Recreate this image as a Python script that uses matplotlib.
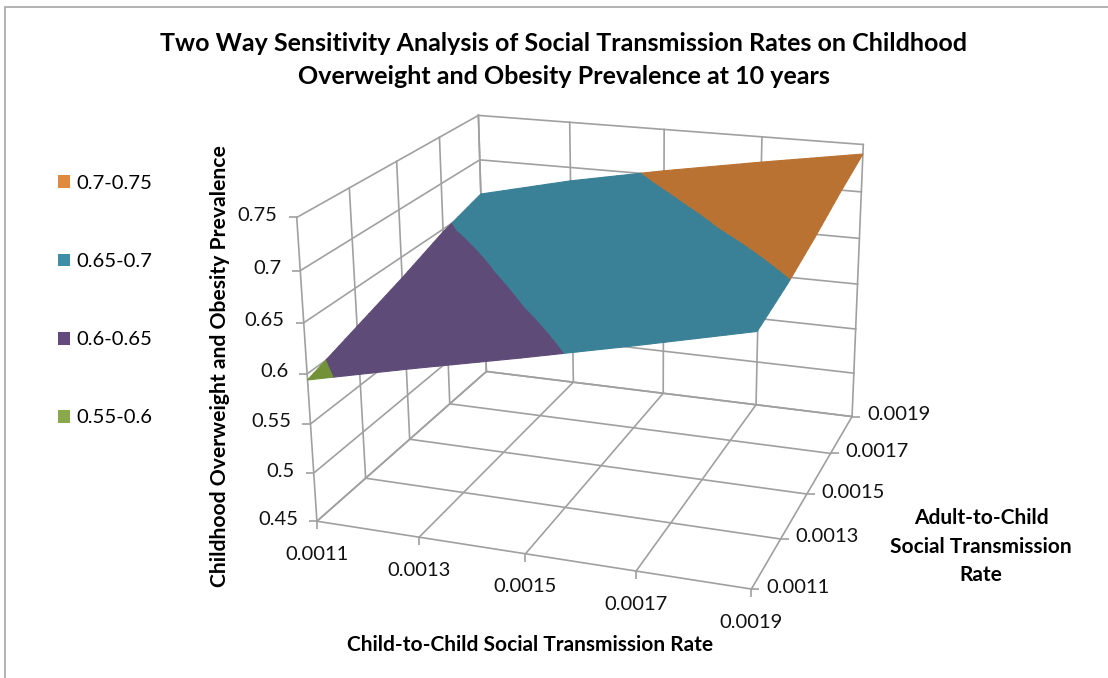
"""Two way sensitivity surface, Excel style 3D chart rebuilt with mplot3d."""
import matplotlib

matplotlib.use("Agg")
import matplotlib.pyplot as plt
import numpy as np
from matplotlib.patches import Patch, Rectangle
from mpl_toolkits.mplot3d import proj3d
from mpl_toolkits.mplot3d.art3d import Poly3DCollection

plt.rcParams["font.family"] = ["Lato", "DejaVu Sans"]

TITLE = "Two Way Sensitivity Analysis of Social Transmission Rates on Childhood\nOverweight and Obesity Prevalence at 10 years"

child_rate = [0.0011, 0.0013, 0.0015, 0.0017, 0.0019]
adult_rate = [0.0011, 0.0013, 0.0015, 0.0017, 0.0019]
z_ticks = [0.45, 0.5, 0.55, 0.6, 0.65, 0.7, 0.75]

# rows: adult rate, columns: child rate
prevalence = [
    [0.594, 0.618, 0.641, 0.665, 0.690],
    [0.611, 0.636, 0.658, 0.680, 0.699],
    [0.628, 0.652, 0.673, 0.6945, 0.712],
    [0.647, 0.669, 0.690, 0.709, 0.727],
    [0.661, 0.685, 0.705, 0.723, 0.740],
]

band_labels = ["0.7-0.75", "0.65-0.7", "0.6-0.65", "0.55-0.6"]
band_edges = [(0.7, 0.75), (0.65, 0.7), (0.6, 0.65), (0.55, 0.6)]
surface_colors = ["#BA7232", "#3A8198", "#5F4B78", "#739238"]
legend_colors = ["#DF8A3F", "#3C8DA5", "#64497F", "#8AA94B"]

GRID = "#A0A0A0"
CELL_STEPS = 8  # each grid cell is drawn as a small bilinear mesh


def clip_z(poly, lo, hi):
    """Clip a polygon to lo <= z <= hi (Sutherland-Hodgman on the z value)."""
    for sign, limit in [(1, lo), (-1, hi)]:
        out = []
        for i in range(len(poly)):
            a, b = poly[i], poly[(i + 1) % len(poly)]
            da, db = sign * (a[2] - limit), sign * (b[2] - limit)
            if da >= 0:
                out.append(a)
            if da * db < 0:
                out.append(a + (b - a) * da / (da - db))
        poly = out
        if not poly:
            break
    return poly


def band_polygons(lo, hi):
    z = np.array(prevalence)
    polys = []
    t = np.linspace(0, 1, CELL_STEPS + 1)
    for j in range(len(adult_rate) - 1):
        for i in range(len(child_rate) - 1):
            def corner(u, v):
                zz = (z[j, i] * (1 - u) * (1 - v) + z[j, i + 1] * u * (1 - v)
                      + z[j + 1, i] * (1 - u) * v + z[j + 1, i + 1] * u * v)
                return np.array([child_rate[i] + u * (child_rate[i + 1] - child_rate[i]),
                                 adult_rate[j] + v * (adult_rate[j + 1] - adult_rate[j]), zz])

            for u0, u1 in zip(t[:-1], t[1:]):
                for v0, v1 in zip(t[:-1], t[1:]):
                    p = clip_z([corner(u0, v0), corner(u1, v0), corner(u1, v1), corner(u0, v1)], lo, hi)
                    if len(p) >= 3:
                        polys.append(np.array(p))
    return polys


fig = plt.figure(figsize=(11.08, 6.78), dpi=100)
S = 656
ax = fig.add_axes([(591 - S / 2) / 1108, (678 - 335 - S / 2) / 678, S / 1108, S / 678],
                  projection="3d", computed_zorder=False)
ax.set_proj_type("persp", focal_length=0.52)
ax.view_init(elev=19.8, azim=-70.3, roll=0.5)
ax.set_box_aspect((1.05, 1.02, 0.74))
ax.set_xlim(child_rate[0], child_rate[-1])
ax.set_ylim(adult_rate[0], adult_rate[-1])
ax.set_zlim(z_ticks[0], z_ticks[-1])
ax.set_axis_off()
ax.patch.set_alpha(0)

x0, x1 = child_rate[0], child_rate[-1]
y0, y1 = adult_rate[0], adult_rate[-1]
z0, z1 = z_ticks[0], z_ticks[-1]
line = dict(color=GRID, lw=1.2, zorder=1)

# floor and the two back walls
for x in child_rate:
    ax.plot([x, x], [y0, y1], [z0, z0], **line)
    ax.plot([x, x], [y1, y1], [z0, z1], **line)
for y in adult_rate:
    ax.plot([x0, x1], [y, y], [z0, z0], **line)
    ax.plot([x0, x0], [y, y], [z0, z1], **line)
for z in z_ticks:
    ax.plot([x0, x0], [y0, y1], [z, z], **line)
    ax.plot([x0, x1], [y1, y1], [z, z], **line)

# tick marks
tick = dict(color=GRID, ls="", ms=6, mew=1.2, zorder=1)
ax.plot(child_rate, [y0] * 5, [z0] * 5, marker=3, **tick)
ax.plot([x1] * 5, adult_rate, [z0] * 5, marker=1, **tick)
ax.plot([x0] * 7, [y0] * 7, z_ticks, marker=0, **tick)

for (lo, hi), col in zip(band_edges, surface_colors):
    ax.add_collection3d(Poly3DCollection(band_polygons(lo, hi), facecolors=col,
                                         edgecolors=col, linewidths=0.8, zorder=2))

M = ax.get_proj()


def tick_label(text, x, y, z, dx, dy, ha):
    px, py, _ = proj3d.proj_transform(x, y, z, M)
    ax.annotate(text, (px, py), xytext=(dx, dy), textcoords="offset pixels",
                ha=ha, va="center", fontsize=14.5, color="#111111")


for x in child_rate:
    tick_label(f"{x:.4f}", x, y0, z0, 0, -33, "center")
for y in adult_rate:
    tick_label(f"{y:.4f}", x1, y, z0, 15, 2, "left")
for z in z_ticks:
    tick_label(f"{z:g}", x0, y0, z, -19, 2, "right")

fig.text(564 / 1108, 1 - 60 / 678, TITLE, ha="center", va="center", fontsize=18,
         fontweight="bold", linespacing=1.5, color="black")
fig.text(530 / 1108, 1 - 645 / 678, "Child-to-Child Social Transmission Rate", ha="center",
         va="center", fontsize=15, fontweight="bold")
for txt, cy in [("Adult-to-Child", 518), ("Social Transmission", 547), ("Rate", 575)]:
    fig.text(981 / 1108, 1 - cy / 678, txt, ha="center", va="center", fontsize=15, fontweight="bold")
fig.text(220 / 1108, 1 - 366 / 678, "Childhood Overweight and Obesity Prevalence", rotation=90,
         ha="center", va="center", fontsize=15.2, fontweight="bold")

handles = [Patch(facecolor=c, label=t) for c, t in zip(legend_colors, band_labels)]
fig.legend(handles=handles, loc="upper left", bbox_to_anchor=(58 / 1108, 1 - 175 / 678),
           frameon=False, fontsize=14.6, handlelength=0.6, handleheight=0.6,
           handletextpad=0.3, labelspacing=3.015, borderpad=0, borderaxespad=0)

# chart area frame
fig.add_artist(Rectangle((5 / 1108, -0.05), 1.2, 1.05 - 7 / 678, transform=fig.transFigure,
                         fill=False, edgecolor="#A6A6A6", lw=1.2))

fig.savefig("out.png", dpi=100)
